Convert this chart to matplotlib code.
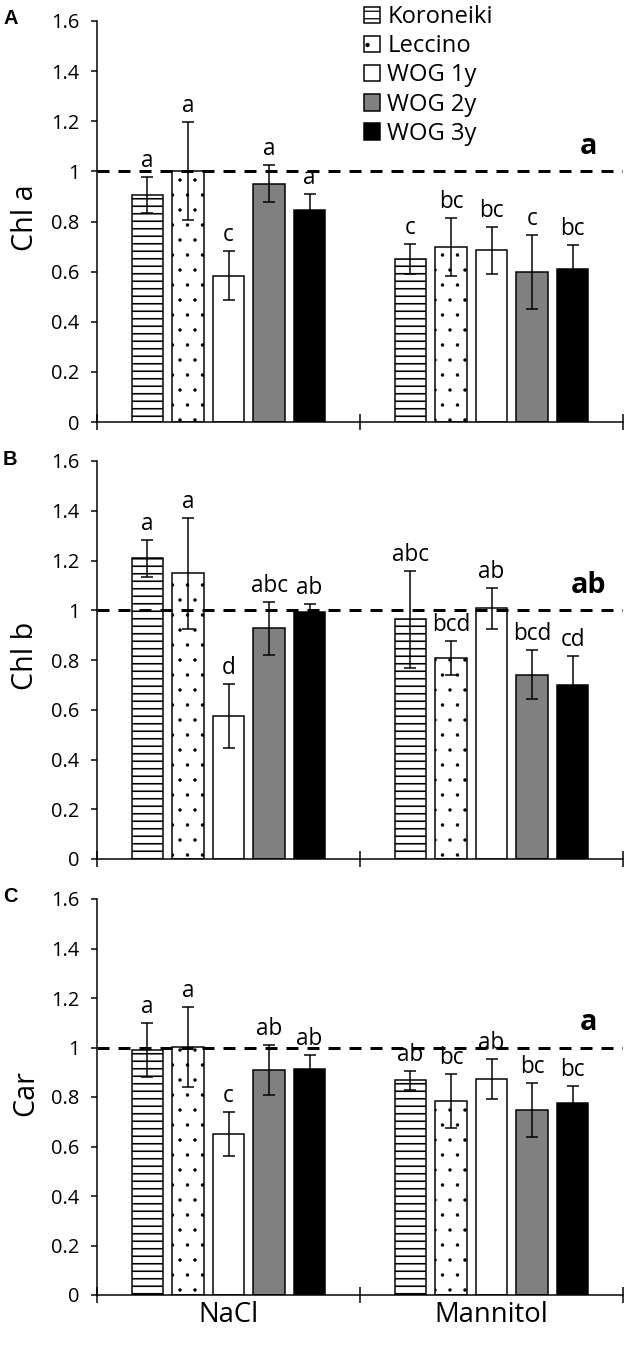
import matplotlib
matplotlib.use("Agg")
import matplotlib.pyplot as plt
import numpy as np

# =========================
# DATA
# =========================
groups = ["NaCl", "Mannitol"]
cultivars = ["Koroneiki", "Leccino", "WOG 1y", "WOG 2y", "WOG 3y"]

chla_nacl = [0.906, 1.000, 0.584, 0.951, 0.847]
chla_nacl_err = [0.073, 0.196, 0.097, 0.075, 0.061]
chla_mann = [0.650, 0.698, 0.685, 0.598, 0.612]
chla_mann_err = [0.061, 0.117, 0.093, 0.148, 0.094]
chla_letters = [["a", "a", "c", "a", "a"], ["c", "bc", "bc", "c", "bc"]]

chlb_nacl = [1.209, 1.148, 0.575, 0.927, 0.994]
chlb_nacl_err = [0.075, 0.224, 0.128, 0.108, 0.032]
chlb_mann = [0.963, 0.807, 1.008, 0.741, 0.698]
chlb_mann_err = [0.196, 0.068, 0.083, 0.099, 0.119]
chlb_letters = [["a", "a", "d", "abc", "ab"], ["abc", "bcd", "ab", "bcd", "cd"]]

car_nacl = [0.990, 1.003, 0.650, 0.909, 0.914]
car_nacl_err = [0.108, 0.161, 0.088, 0.100, 0.056]
car_mann = [0.867, 0.784, 0.873, 0.747, 0.774]
car_mann_err = [0.037, 0.108, 0.082, 0.110, 0.070]
car_letters = [["a", "a", "c", "ab", "ab"], ["ab", "bc", "ab", "bc", "bc"]]

panel_ids = ["A", "B", "C"]
ylabels = ["Chl a", "Chl b", "Car"]
overall_letters = ["a", "ab", "a"]
yticks = [0, 0.2, 0.4, 0.6, 0.8, 1.0, 1.2, 1.4, 1.6]
ytick_labels = ["0", "0.2", "0.4", "0.6", "0.8", "1", "1.2", "1.4", "1.6"]

# =========================
# STYLE
# =========================
DPI = 90
FONT = ["Open Sans", "DejaVu Sans"]
plt.rcParams["font.family"] = FONT
plt.rcParams["hatch.color"] = "black"

faces = ["white", "white", "white", "#808080", "black"]
hatches = ["--", ".", "", "", ""]
hatch_lw = [1.3, 0.3, 1.0, 1.0, 1.0]
BAR_W = 0.12
STEP = 0.154

W, H = 630, 1348
fig = plt.figure(figsize=(W / DPI, H / DPI), dpi=DPI)

# axes boxes in pixels: (top of 1.6, bottom at 0)
boxes = [(21, 422), (461, 859), (899, 1295)]
AX_L, AX_R = 97, 623

panels = [
    (chla_nacl, chla_nacl_err, chla_mann, chla_mann_err, chla_letters),
    (chlb_nacl, chlb_nacl_err, chlb_mann, chlb_mann_err, chlb_letters),
    (car_nacl, car_nacl_err, car_mann, car_mann_err, car_letters),
]

for k, (top, bot) in enumerate(boxes):
    ax = fig.add_axes([AX_L / W, 1 - bot / H, (AX_R - AX_L) / W, (bot - top) / H])
    nacl, nacl_err, mann, mann_err, letters = panels[k]
    means = [nacl, mann]
    errs = [nacl_err, mann_err]

    x = np.arange(len(groups))
    for i, name in enumerate(cultivars):
        xs = x + (i - 2) * STEP
        vals = [means[g][i] for g in range(len(groups))]
        ee = [errs[g][i] for g in range(len(groups))]
        with plt.rc_context({"hatch.linewidth": hatch_lw[i]}):
            ax.bar(xs, vals, BAR_W, color=faces[i], edgecolor="black",
                   linewidth=1.2, hatch=hatches[i], label=name, zorder=2)
        ax.errorbar(xs, vals, yerr=ee, fmt="none", ecolor="black",
                    elinewidth=1.2, capsize=4.8, capthick=1.2, zorder=3)
        for g in range(len(groups)):
            ax.text(xs[g], vals[g] + ee[g] + 0.04, letters[g][i],
                    ha="center", va="baseline", fontsize=18)

    ax.axhline(1.0, color="black", linewidth=2.4, dashes=(4, 3), zorder=4)
    ax.text(1.37, 1.07, overall_letters[k], ha="center", va="baseline",
            fontsize=23, fontweight="bold")

    ax.set_xlim(-0.5, 1.5)
    ax.set_ylim(0, 1.6)
    ax.spines["top"].set_visible(False)
    ax.spines["right"].set_visible(False)
    ax.spines["left"].set_linewidth(1.2)
    ax.spines["bottom"].set_linewidth(1.2)

    ax.set_yticks(yticks)
    ax.set_yticklabels(ytick_labels)
    ax.tick_params(axis="y", direction="out", length=5, width=1.2,
                   pad=9, labelsize=16)
    ax.set_xticks([-0.5, 0.5, 1.5])
    ax.set_xticklabels([])
    ax.tick_params(axis="x", which="major", direction="inout", length=13, width=1.2)
    if k == 2:
        ax.set_xticks(x, minor=True)
        ax.set_xticklabels(groups, minor=True, fontsize=22)
        ax.tick_params(axis="x", which="minor", length=0, pad=5)

    ax.set_ylabel(ylabels[k], fontsize=23)
    ax.yaxis.set_label_coords(-0.135, 0.51)
    ax.yaxis.label.set_va("center")

    fig.text(3 / W, 1 - (top - 2) / H, panel_ids[k], ha="left", va="center",
             fontsize=16, fontweight="bold", family="Liberation Sans")

    if k == 0:
        ax.legend(loc="upper left", bbox_to_anchor=(364 / W, 1 - 5 / H),
                  bbox_transform=fig.transFigure, frameon=False, fontsize=19,
                  borderpad=0, borderaxespad=0, handlelength=0.68,
                  handleheight=0.68, handletextpad=0.3, labelspacing=0.22)

fig.savefig("out.png", dpi=DPI)
